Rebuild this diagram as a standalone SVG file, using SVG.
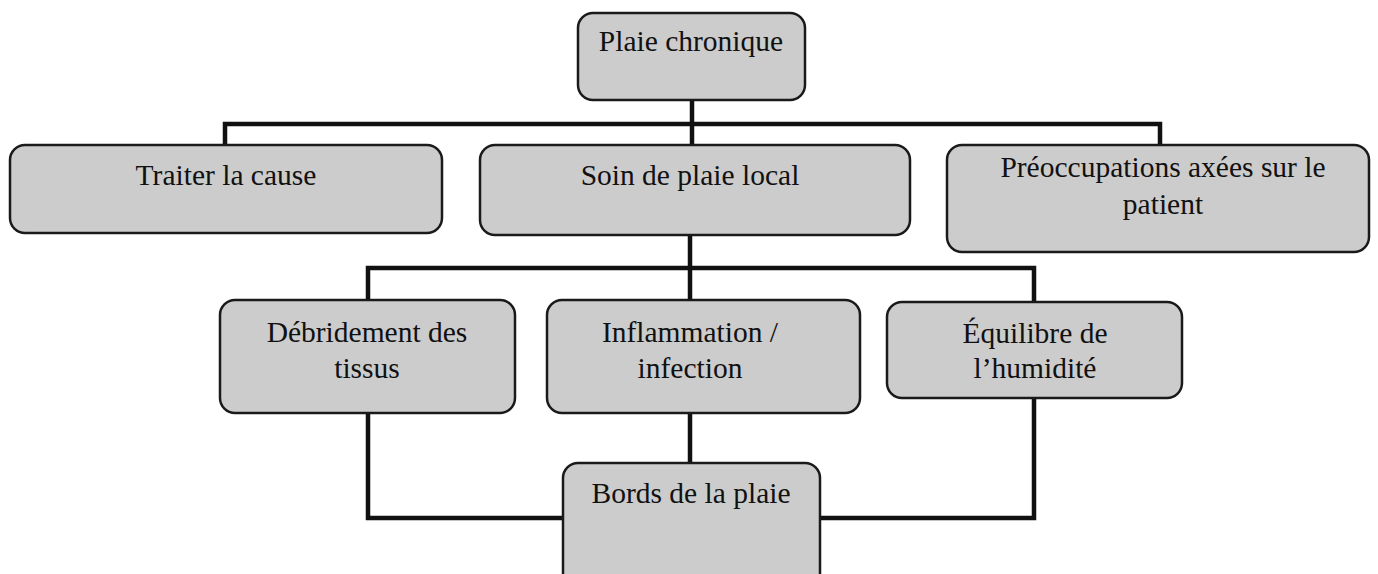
<svg xmlns="http://www.w3.org/2000/svg" width="1378" height="574" viewBox="0 0 1378 574">
<style>
.box{fill:#cccccc;stroke:#1a1a1a;stroke-width:2.5}
.lbl{font-family:"Liberation Serif",serif;font-size:29.5px;fill:#111;text-anchor:middle}
.conn{fill:none;stroke:#111;stroke-width:4.5}
</style>
<rect width="1378" height="574" fill="#ffffff"/>
<g id="connectors" class="conn">
<line x1="692" y1="100" x2="692" y2="124"/>
<polyline points="225,145 225,124 1160,124 1160,145"/>
<line x1="692" y1="124" x2="692" y2="145"/>
<line x1="690" y1="235" x2="690" y2="268"/>
<polyline points="368,300 368,268 1034,268 1034,302"/>
<line x1="690" y1="268" x2="690" y2="300"/>
<polyline points="368,413 368,518 563,518"/>
<line x1="690" y1="413" x2="690" y2="463"/>
<polyline points="1034,398 1034,518 820,518"/>
</g>
<g id="n-plaie">
<rect class="box" x="578" y="13" width="227" height="87" rx="15"/>
<text class="lbl" x="691" y="51">Plaie chronique</text>
</g>
<g id="n-traiter">
<rect class="box" x="10" y="145" width="432" height="88" rx="15"/>
<text class="lbl" x="226" y="185">Traiter la cause</text>
</g>
<g id="n-soin">
<rect class="box" x="480" y="145" width="430" height="90" rx="15"/>
<text class="lbl" x="690" y="185">Soin de plaie local</text>
</g>
<g id="n-preoc">
<rect class="box" x="947" y="145" width="422" height="107" rx="15"/>
<text class="lbl" x="1163" y="177">Préoccupations axées sur le</text>
<text class="lbl" x="1163" y="214">patient</text>
</g>
<g id="n-debr">
<rect class="box" x="220" y="300" width="295" height="113" rx="15"/>
<text class="lbl" x="367" y="342">Débridement des</text>
<text class="lbl" x="367" y="378">tissus</text>
</g>
<g id="n-infl">
<rect class="box" x="547" y="300" width="313" height="113" rx="15"/>
<text class="lbl" x="690" y="342">Inflammation /</text>
<text class="lbl" x="690" y="378">infection</text>
</g>
<g id="n-equi">
<rect class="box" x="887" y="302" width="295" height="96" rx="15"/>
<text class="lbl" x="1035" y="343">Équilibre de</text>
<text class="lbl" x="1035" y="378">l’humidité</text>
</g>
<g id="n-bords">
<rect class="box" x="563" y="463" width="257" height="130" rx="15"/>
<text class="lbl" x="691" y="503">Bords de la plaie</text>
</g>
</svg>
